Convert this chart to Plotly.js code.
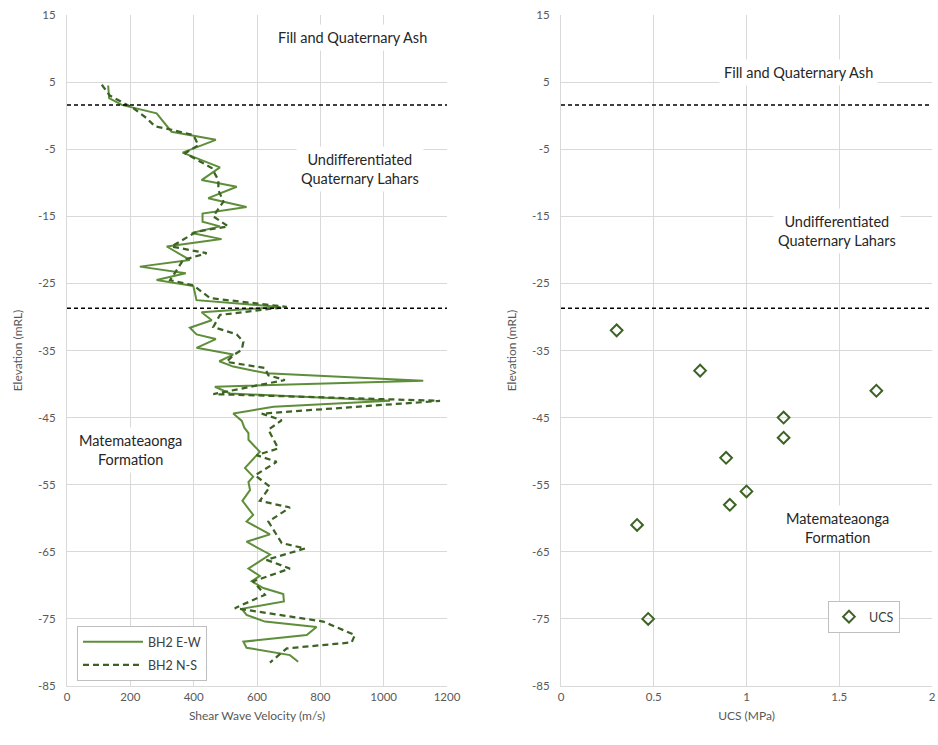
<!DOCTYPE html>
<html>
<head>
<meta charset="utf-8">
<script src="https://cdn.plot.ly/plotly-3.0.1.min.js"></script>
<style>html,body{margin:0;padding:0;background:#fff;}#chart{width:938px;height:745px;}</style>
</head>
<body>
<div id="chart"></div>
<script>
// Shear wave velocity, BH2 E-W (m/s) and elevation (mRL)
var ewVel = [130,133,173,283,330,394,470,365,483,425,536,446,567,428,428,483,394,488,315,388,230,375,283,399,409,672,425,457,388,409,470,409,525,481,525,630,1125,467,515,1020,652,525,552,560,573,573,609,562,588,573,578,554,588,567,641,567,641,573,609,583,620,683,685,552,567,625,788,757,557,567,704,730];
var ewElev = [4.5,2.6,1.6,0.35,-2.4,-2.9,-3.6,-5.5,-7.7,-9.6,-10.6,-12.3,-13.6,-14.6,-15.8,-16.5,-17.5,-18.4,-19.5,-21.5,-22.5,-23.5,-24.5,-25.4,-27.5,-28.5,-29.3,-30.5,-31.6,-32.6,-33.3,-34.6,-35.6,-36.6,-37.4,-38.4,-39.5,-40.4,-41.4,-42.5,-43.4,-44.4,-45.5,-46.5,-47.3,-48.3,-50.1,-52.5,-53.8,-54.6,-55.8,-57.4,-59.5,-60.5,-62.4,-63.5,-65.4,-67.5,-68.6,-69.4,-70.4,-71.3,-72.4,-73.5,-74.4,-75.4,-76.2,-77.4,-78.4,-79.3,-80.4,-81.4];
// BH2 N-S
var nsVel = [110,135,210,252,278,330,399,415,373,457,478,478,494,462,509,409,330,441,367,326,399,452,694,483,462,536,557,552,525,504,625,636,688,462,1178,615,678,636,667,599,662,594,641,609,704,636,678,752,630,704,588,625,530,809,909,899,694,641];
var nsElev = [4.6,3.0,1.1,-0.4,-1.6,-2.1,-2.9,-4.4,-5.6,-7.8,-9.6,-11.1,-12.8,-15.0,-16.5,-17.3,-19.5,-20.5,-21.5,-24.5,-25.3,-27.2,-28.5,-29.7,-31.5,-32.6,-33.7,-34.9,-35.7,-36.7,-37.6,-38.7,-39.4,-41.5,-42.5,-44.4,-45.4,-46.8,-49.6,-50.6,-51.6,-53.6,-55.3,-57.4,-58.4,-60.5,-63.7,-64.5,-66.2,-67.5,-69.4,-71.4,-73.4,-75.4,-77.4,-78.5,-79.4,-81.5];
// UCS (MPa)
var ucsVal = [0.3,0.75,1.7,1.2,1.2,0.89,1.0,0.91,0.41,0.47];
var ucsElev = [-32,-38,-41,-45,-48,-51,-56,-58,-61,-75];
// Formation boundaries (mRL)
var boundaryElev = [1.6,-28.7];
// Tick labels
var yTickVals = [15,5,-5,-15,-25,-35,-45,-55,-65,-75,-85];
var yTickText = ['15','5','-5','-15','-25','-35','-45','-55','-65','-75','-85'];

var tickFont = {family:'Lato, "Open Sans", sans-serif', size:11.5, color:'#595959'};
var titleFont = {family:'Lato, "Open Sans", sans-serif', size:12, color:'#595959'};
var annFont = {family:'Lato, "Open Sans", sans-serif', size:14.5, color:'#262626'};
var grid = '#d9d9d9';

var traces = [
  {x: ewVel, y: ewElev, xaxis:'x', yaxis:'y', mode:'lines', name:'BH2 E-W', legend:'legend', legendgroup:'a',
   line:{color:'#5e8e3a', width:2}},
  {x: nsVel, y: nsElev, xaxis:'x', yaxis:'y', mode:'lines', name:'BH2 N-S', legend:'legend', legendgroup:'b',
   line:{color:'#3c6324', width:2.25, dash:'6px,4px'}},
  {x: ucsVal, y: ucsElev, xaxis:'x2', yaxis:'y2', mode:'markers', name:'UCS', legend:'legend2',
   marker:{symbol:'diamond-open', size:9, color:'#3c6324', line:{width:2, color:'#3c6324'}}}
];

var shapes = [];
boundaryElev.forEach(function(b){
  ['x','x2'].forEach(function(ax){
    shapes.push({type:'line', xref: ax + ' domain', yref: ax==='x' ? 'y' : 'y2', x0:0, x1:1, y0:b, y1:b,
      line:{color:'#000', width:1.5, dash:'4px,3px'}});
  });
});

function ann(x, y, xref, yref, text){
  return {x:x, y:y, xref:xref, yref:yref, text:text, showarrow:false, font:annFont, bgcolor:'#ffffff', borderpad:4, align:'center'};
}

var annotations = [
  ann(900, 11.6, 'x', 'y', 'Fill and Quaternary Ash'),
  ann(925, -8.0, 'x', 'y', 'Undifferentiated<br>Quaternary Lahars'),
  ann(202, -49.8, 'x', 'y', 'Matemateaonga<br>Formation'),
  ann(1.28, 6.5, 'x2', 'y2', 'Fill and Quaternary Ash'),
  ann(1.49, -17.2, 'x2', 'y2', 'Undifferentiated<br>Quaternary Lahars'),
  ann(1.49, -61.5, 'x2', 'y2', 'Matemateaonga<br>Formation')
];

var yDomain = [1 - 686/745, 1 - 15/745];
function yax(anchor){
  return {domain: yDomain, anchor: anchor, range:[-85,15], tickvals: yTickVals, ticktext: yTickText,
    showgrid:true, gridcolor: grid, gridwidth:1, zeroline:false, showline:true, linecolor: grid, linewidth:1,
    ticks:'', tickfont: tickFont, ticklabelstandoff: 8,
    title:{text:'Elevation (mRL)', font: titleFont, standoff: 12}};
}

var legFont = {family:'Lato, "Open Sans", sans-serif', size:12.5, color:'#404040'};
var layout = {
  width:938, height:745,
  margin:{l:0, r:0, t:0, b:0},
  paper_bgcolor:'#ffffff', plot_bgcolor:'#ffffff',
  showlegend:true,
  xaxis:{domain:[67/938, 447/938], anchor:'y', range:[0,1200], dtick:200, tick0:0,
    showgrid:true, gridcolor: grid, zeroline:false, showline:true, linecolor: grid, ticks:'', tickfont: tickFont,
    title:{text:'Shear Wave Velocity (m/s)', font: titleFont, standoff: 9}},
  xaxis2:{domain:[561/938, 932/938], anchor:'y2', range:[0,2], dtick:0.5, tick0:0,
    showgrid:true, gridcolor: grid, zeroline:false, showline:true, linecolor: grid, ticks:'', tickfont: tickFont,
    title:{text:'UCS (MPa)', font: titleFont, standoff: 9}},
  yaxis: yax('x'),
  yaxis2: yax('x2'),
  shapes: shapes,
  annotations: annotations,
  legend:{x:77/938, y:1-626/745, xanchor:'left', yanchor:'top', bgcolor:'#ffffff', bordercolor:'#bfbfbf', borderwidth:1,
    font: legFont, traceorder:'grouped', tracegroupgap:4, itemwidth:60},
  legend2:{x:828/938, y:1-601/745, xanchor:'left', yanchor:'top', bgcolor:'#ffffff', bordercolor:'#bfbfbf', borderwidth:1,
    font: legFont, itemwidth:30}
};

Plotly.newPlot('chart', traces, layout, {staticPlot:true, displayModeBar:false});
</script>
</body>
</html>
